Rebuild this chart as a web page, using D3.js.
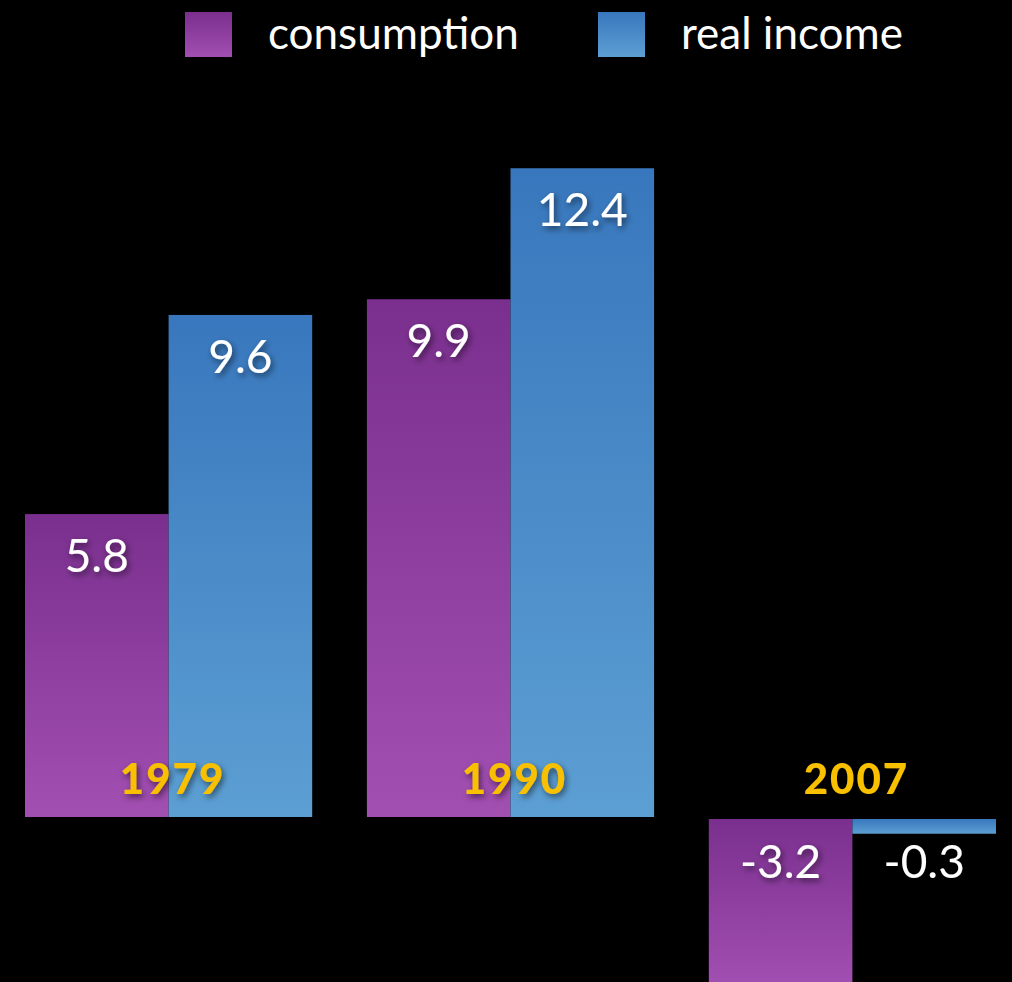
<!DOCTYPE html>
<html>
<head>
<meta charset="utf-8">
<script src="https://cdn.jsdelivr.net/npm/d3@7"></script>
<style>
  html, body { margin: 0; padding: 0; background: #000; }
  svg { display: block; }
</style>
</head>
<body>
<svg id="chart" width="1012" height="982"></svg>
<script>
const years = ["1979", "1990", "2007"];
const series = ["consumption", "real income"];
const consumption = [5.8, 9.9, -3.2];
const realIncome = [9.6, 12.4, -0.3];

const W = 1012, H = 982;
const svg = d3.select("#chart");
const defs = svg.append("defs");

function grad(id, top, bottom) {
  const g = defs.append("linearGradient").attr("id", id)
    .attr("x1", 0).attr("y1", 0).attr("x2", 0).attr("y2", 1);
  g.append("stop").attr("offset", "0%").attr("stop-color", top);
  g.append("stop").attr("offset", "100%").attr("stop-color", bottom);
}
grad("gPurple", "#7a2f8e", "#a24fb2");
grad("gBlue", "#3877bd", "#5c9fd3");
const shadow = defs.append("filter").attr("id", "shadow")
  .attr("x", "-20%").attr("y", "-20%").attr("width", "140%").attr("height", "150%");
shadow.append("feDropShadow").attr("dx", 2).attr("dy", 3).attr("stdDeviation", 3)
  .attr("flood-color", "#000").attr("flood-opacity", 0.55);

const fills = { "consumption": "url(#gPurple)", "real income": "url(#gBlue)" };

const y = d3.scaleLinear().domain([-3.5, 13]).range([818 + 3.5 * 52.4, 818 - 13 * 52.4]);
const x0 = d3.scaleBand().domain(years).range([25, 996]).paddingInner(0.16).paddingOuter(0);
const x1 = d3.scaleBand().domain(series).range([0, x0.bandwidth()]).padding(0);

const data = years.map((yr, i) => ({
  year: yr,
  values: [
    { key: "consumption", value: consumption[i] },
    { key: "real income", value: realIncome[i] }
  ]
}));

const font = "'Lato', 'Open Sans', sans-serif";

const groups = svg.selectAll("g.grp").data(data).enter().append("g")
  .attr("class", "grp")
  .attr("transform", d => `translate(${x0(d.year)},0)`);

groups.selectAll("rect").data(d => d.values).enter().append("rect")
  .attr("x", d => x1(d.key))
  .attr("width", x1.bandwidth())
  .attr("y", d => d.value >= 0 ? y(d.value) : y(0) + 1)
  .attr("height", d => d.value >= 0 ? y(0) - 1 - y(d.value) : y(d.value) - y(0) - 1)
  .attr("fill", d => fills[d.key]);

// year labels
groups.append("text")
  .attr("x", x0.bandwidth() / 2 + 4)
  .attr("y", y(0) - 24)
  .attr("text-anchor", "middle")
  .attr("fill", "#f9c000")
  .attr("font-family", font)
  .attr("font-weight", 900)
  .attr("font-size", 42)
  .attr("letter-spacing", 2)
  .attr("filter", "url(#shadow)")
  .text(d => d.year);

// value labels
groups.selectAll("text.val").data(d => d.values).enter().append("text")
  .attr("class", "val")
  .attr("x", d => x1(d.key) + x1.bandwidth() / 2)
  .attr("y", d => d.value >= 0 ? y(d.value) + 58 : y(0) + 60)
  .attr("text-anchor", "middle")
  .attr("fill", "#fff")
  .attr("font-family", font)
  .attr("font-size", 46)
  .attr("filter", "url(#shadow)")
  .text(d => d.value.toFixed(1));

// legend
const legendX = [185, 598];
const leg = svg.selectAll("g.leg").data(series).enter().append("g")
  .attr("class", "leg")
  .attr("transform", (d, i) => `translate(${legendX[i]},12)`);
leg.append("rect").attr("width", 47).attr("height", 45).attr("fill", d => fills[d]);
leg.append("text")
  .attr("x", 83).attr("y", 37)
  .attr("fill", "#fff")
  .attr("font-family", font)
  .attr("font-size", 44)
  .text(d => d);
</script>
</body>
</html>
